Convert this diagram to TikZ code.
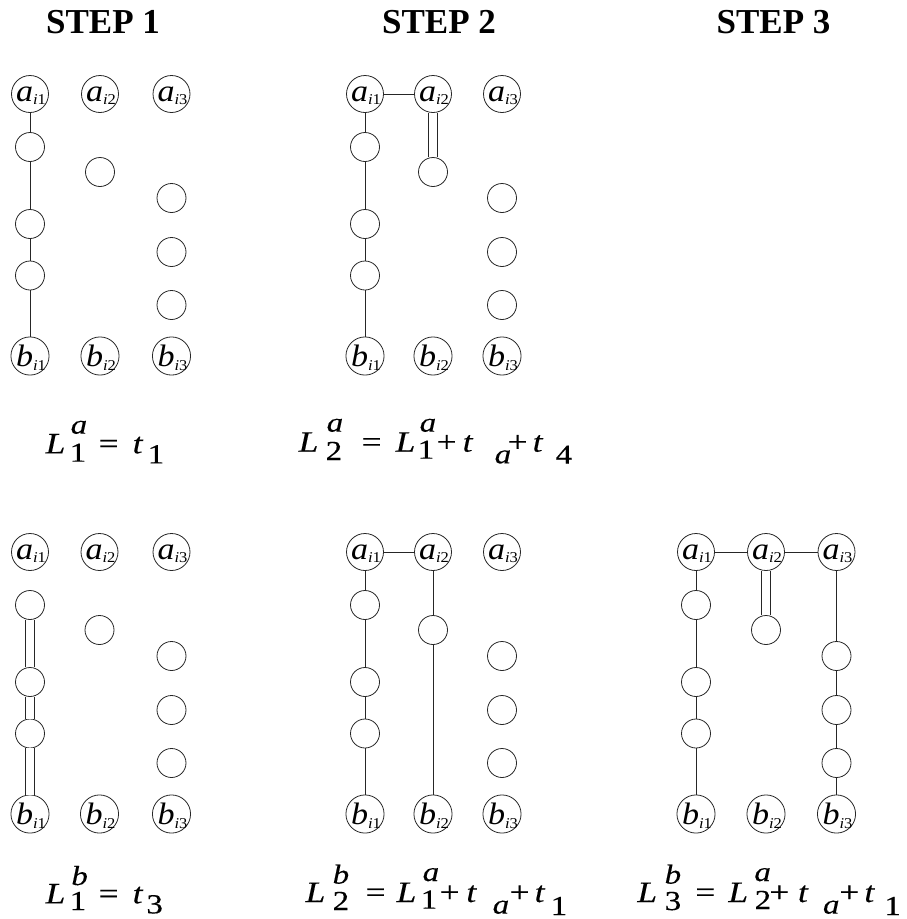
\documentclass[tikz,border=0pt]{standalone}
\usepackage{fontspec}
\setmainfont{Liberation Serif}
\newfontfamily\eqf[FakeStretch=1.2,FakeBold=0.3]{Liberation Serif}
\newfontfamily\labf[FakeStretch=1.1]{Liberation Serif}
\newcommand\mainf{\eqf\fontsize{29.5}{29.5}\selectfont}
\newcommand\scrf{\eqf\fontsize{27.5}{27.5}\selectfont}
\newcommand\at[2]{\rlap{\hspace*{#1pt}#2}}
\newcommand\up[2]{\raisebox{#1pt}{\scrf #2}}
\newcommand\lab[2]{\kern2pt{\labf\fontsize{31}{31}\selectfont\itshape #1}\raisebox{-3.5pt}{\labf\fontsize{15}{15}\selectfont\itshape i\upshape #2}}
\tikzset{
  ln/.style={line width=0.8pt, draw=black!85},
  dbl/.style={line width=0.8pt, draw=black!85, double=white, double distance=8pt},
  anode/.style={circle, draw=black!85, line width=0.8pt, minimum size=37pt, inner sep=0pt, text height=14pt, text depth=0pt},
  bnode/.style={circle, draw=black!85, line width=0.8pt, minimum size=37pt, inner sep=0pt, text height=21pt, text depth=0pt},
  enode/.style={circle, draw=black!85, line width=0.8pt, minimum size=29pt, inner sep=0pt},
  hdr/.style={anchor=base, inner sep=0pt, font=\fontsize{35}{35}\selectfont\bfseries},
  frm/.style={anchor=base west, inner sep=0pt, font=\mainf}
}
% #1 name, #2 x col1, #3 x col2, #4 x col3, #5 y of top row
\newcommand\panel[5]{%
  \node[anode] (#1-a1) at (#2,#5) {\lab{a}{1}};
  \node[anode] (#1-a2) at (#3,#5) {\lab{a}{2}};
  \node[anode] (#1-a3) at (#4,#5) {\lab{a}{3}};
  \node[bnode] (#1-b1) at (#2,#5+262) {\lab{b}{1}};
  \node[bnode] (#1-b2) at (#3,#5+262) {\lab{b}{2}};
  \node[bnode] (#1-b3) at (#4,#5+262) {\lab{b}{3}};
  \node[enode] (#1-c11) at (#2,#5+53) {};
  \node[enode] (#1-c12) at (#2,#5+130) {};
  \node[enode] (#1-c13) at (#2,#5+181.5) {};
  \node[enode] (#1-c2) at (#3,#5+78) {};
  \node[enode] (#1-c31) at (#4,#5+104) {};
  \node[enode] (#1-c32) at (#4,#5+158) {};
  \node[enode] (#1-c33) at (#4,#5+211) {};
}
\begin{document}
\begin{tikzpicture}[x=1pt,y=-1pt]
\useasboundingbox (0,0) rectangle (907,919);
% headers
\node[hdr] (h1) at (103,33) {STEP 1};
\node[hdr] (h2) at (439,33) {STEP 2};
\node[hdr] (h3) at (773.5,33) {STEP 3};
% panels
\panel{tl}{30}{100}{171.5}{94}
\panel{tm}{365}{433}{502}{94}
\panel{bl}{30}{99.5}{171.5}{552}
\panel{bm}{365}{433}{502}{552}
\panel{br}{696}{766}{836.5}{552}
% top-left connections
\draw[ln] (tl-a1) -- (tl-c11) -- (tl-c12) -- (tl-c13) -- (tl-b1);
% top-middle connections
\draw[ln] (tm-a1) -- (tm-a2);
\draw[ln] (tm-a1) -- (tm-c11) -- (tm-c12) -- (tm-c13) -- (tm-b1);
\draw[dbl] (tm-a2) -- (tm-c2);
% bottom-left connections
\draw[dbl] (bl-c11) -- (bl-c12);
\draw[dbl] (bl-c12) -- (bl-c13);
\draw[dbl] (bl-c13) -- (bl-b1);
% bottom-middle connections
\draw[ln] (bm-a1) -- (bm-a2);
\draw[ln] (bm-a1) -- (bm-c11) -- (bm-c12) -- (bm-c13) -- (bm-b1);
\draw[ln] (bm-a2) -- (bm-c2) -- (bm-b2);
% bottom-right connections
\draw[ln] (br-a1) -- (br-a2) -- (br-a3);
\draw[ln] (br-a1) -- (br-c11) -- (br-c12) -- (br-c13) -- (br-b1);
\draw[dbl] (br-a2) -- (br-c2);
\draw[ln] (br-a3) -- (br-c31) -- (br-c32) -- (br-c33) -- (br-b3);
% formulas
\node[frm] (f1) at (45,453.3) {\at{0}{\itshape L}\at{25}{\up{19.6}{\itshape a}}\at{24}{\up{-8.4}{1}}\at{53}{=}\at{87}{\itshape t}\at{102}{\up{-10}{1}}};
\node[frm] (f2) at (298,451.7) {\at{0}{\itshape L}\at{28}{\up{20}{\itshape a}}\at{27}{\up{-8.3}{2}}\at{63}{=}\at{97}{\itshape L}\at{121}{\up{20}{\itshape a}}\at{119}{\up{-7}{1}}\at{138}{+}\at{164}{\itshape t}\at{196}{\up{-11.6}{\itshape a}}\at{209}{+}\at{234}{\itshape t}\at{257}{\up{-12}{4}}};
\node[frm] (f3) at (45,903.3) {\at{0}{\itshape L}\at{25.7}{\up{18.3}{\itshape b}}\at{24}{\up{-6.7}{1}}\at{53}{=}\at{87}{\itshape t}\at{100.7}{\up{-10}{3}}};
\node[frm] (f4) at (305,902) {\at{0}{\itshape L}\at{27}{\up{18.4}{\itshape b}}\at{27}{\up{-8}{2}}\at{60}{=}\at{91}{\itshape L}\at{117}{\up{21}{\itshape a}}\at{115}{\up{-6.6}{1}}\at{134}{+}\at{160.7}{\itshape t}\at{187}{\up{-11.6}{\itshape a}}\at{204}{+}\at{229}{\itshape t}\at{245}{\up{-13}{1}}};
\node[frm] (f5) at (636.7,902) {\at{0}{\itshape L}\at{27.3}{\up{18.4}{\itshape b}}\at{27.3}{\up{-8}{3}}\at{58}{=}\at{91}{\itshape L}\at{117}{\up{21}{\itshape a}}\at{117.3}{\up{-7}{2}}\at{132}{+}\at{160.6}{\itshape t}\at{185.6}{\up{-11.6}{\itshape a}}\at{202}{+}\at{227}{\itshape t}\at{247}{\up{-13}{1}}};
\end{tikzpicture}
\end{document}
